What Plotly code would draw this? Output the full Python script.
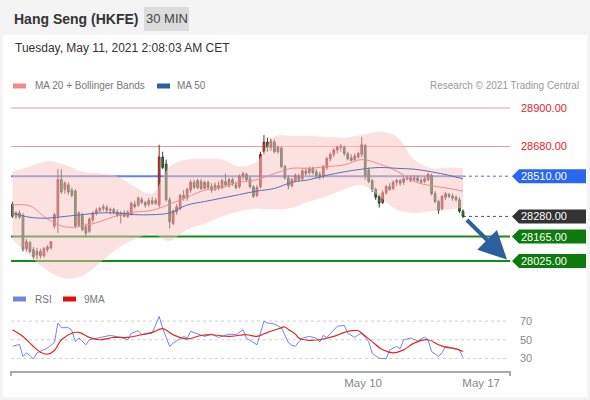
import plotly.graph_objects as go

# ---------------- data ----------------
opens = [28350,28280,28300,28285,28095,28130,28090,28060,28080,28055,28090,28100,28225,28280,28490,28435,28460,28430,28425,28230,
         28285,28220,28195,28260,28300,28315,28325,28330,28315,28320,28305,28285,28300,28280,28290,28350,28345,28375,28360,28350,
         28370,28355,28345,28620,28580,28375,28240,28305,28325,28400,28385,28430,28475,28445,28480,28440,28475,28450,28435,28455,
         28445,28480,28455,28490,28460,28450,28510,28520,28495,28450,28400,28450,28650,28705,28675,28705,28650,28670,28565,28500,
         28455,28485,28510,28495,28540,28530,28555,28535,28520,28510,28560,28610,28635,28660,28675,28675,28640,28615,28605,28620,
         28635,28685,28545,28485,28435,28395,28360,28415,28450,28440,28475,28485,28475,28495,28500,28490,28500,28485,28480,28490,
         28515,28410,28365,28325,28390,28405,28395,28390,28375,28310]
highs = [28365,28310,28315,28300,28150,28140,28105,28100,28095,28105,28115,28140,28300,28550,28550,28480,28475,28445,28435,28310,
         28300,28240,28275,28310,28330,28335,28350,28345,28330,28330,28320,28310,28315,28315,28365,28370,28395,28390,28370,28385,
         28390,28385,28690,28650,28605,28390,28320,28350,28410,28430,28445,28490,28490,28495,28495,28485,28485,28470,28475,28480,
         28495,28525,28500,28500,28480,28520,28535,28530,28510,28460,28460,28650,28745,28730,28725,28720,28685,28680,28575,28515,
         28500,28525,28525,28555,28560,28565,28565,28550,28535,28575,28620,28645,28670,28685,28695,28685,28650,28635,28640,28650,
         28735,28695,28560,28495,28445,28405,28430,28460,28470,28485,28495,28495,28505,28515,28515,28515,28515,28500,28505,28530,
         28525,28425,28375,28400,28420,28415,28410,28400,28390,28320]
lows = [28270,28265,28265,28080,28080,28070,28035,28035,28040,28045,28075,28090,28210,28185,28410,28410,28405,28390,28210,28220,
        28195,28165,28185,28245,28285,28305,28310,28305,28290,28290,28275,28240,28275,28270,28285,28325,28335,28350,28330,28335,
        28345,28345,28330,28550,28365,28210,28230,28290,28315,28370,28370,28415,28435,28435,28430,28435,28435,28415,28425,28430,
        28435,28450,28445,28455,28435,28440,28490,28480,28440,28385,28390,28440,28635,28650,28655,28640,28640,28555,28490,28435,
        28445,28475,28480,28485,28515,28520,28520,28500,28490,28495,28545,28595,28620,28640,28650,28625,28600,28595,28595,28610,
        28620,28490,28470,28420,28375,28330,28350,28405,28425,28430,28455,28455,28460,28485,28475,28480,28475,28470,28470,28480,
        28400,28355,28295,28315,28375,28385,28370,28365,28300,28270]
closes = [28280,28300,28275,28095,28135,28080,28050,28080,28055,28095,28105,28135,28290,28490,28420,28470,28420,28400,28225,28300,
          28205,28185,28265,28300,28315,28325,28335,28315,28320,28305,28285,28300,28280,28305,28355,28335,28385,28360,28345,28370,
          28355,28370,28620,28560,28375,28250,28310,28335,28400,28385,28435,28475,28445,28485,28440,28475,28445,28430,28460,28445,
          28485,28460,28490,28470,28445,28510,28525,28490,28450,28395,28445,28635,28705,28675,28710,28650,28675,28565,28500,28455,
          28490,28515,28490,28540,28525,28555,28530,28515,28505,28565,28610,28635,28660,28675,28680,28640,28610,28600,28625,28640,
          28690,28515,28480,28435,28390,28355,28415,28450,28435,28475,28485,28470,28495,28500,28485,28500,28485,28475,28495,28520,
          28410,28365,28315,28395,28410,28395,28385,28375,28310,28280]

band_idx = [0,5,10,15,20,25,30,35,40,45,50,55,60,65,70,75,80,85,90,95,100,105,110,115,120,125,129]
bb_upper = [28535,28565,28595,28575,28535,28525,28510,28450,28410,28565,28605,28610,28605,28565,28595,28735,28740,28740,
            28735,28730,28745,28765,28735,28605,28555,28560,28555]
bb_lower = [28150,28055,27970,27925,27940,28015,28095,28150,28180,28140,28205,28240,28280,28310,28325,28320,28330,28365,
            28395,28435,28460,28395,28320,28300,28310,28320,28330]
ma20 = [28345,28340,28265,28220,28225,28250,28285,28305,28315,28350,28390,28430,28445,28475,28490,28525,28555,28555,
        28565,28575,28605,28580,28540,28480,28455,28440,28425]
ma50 = [28300,28275,28270,28280,28290,28300,28300,28290,28290,28300,28345,28365,28385,28405,28425,28440,28475,28490,
        28515,28535,28550,28560,28555,28550,28535,28515,28495]

rsi_idx = [0,2,3,4,5,6,7,9,10,12,13,14,16,17,18,19,21,22,25,28,31,33,34,36,37,40,42,43,45,46,49,50,51,53,55,57,59,62,64,66,67,
           70,72,73,75,77,79,80,81,82,83,85,87,88,89,90,92,93,95,96,98,99,100,102,103,105,107,108,110,111,112,114,116,118,119,
           120,122,123,124,126,128,129]
rsi_val = [43,45,32,36,33,29.5,36,39,41,47,68,63,63,60,48,52,44.6,50,52.5,54.7,52.5,50,57,59.7,55.4,57,75,62.6,42.8,46.4,53.6,
           51.8,59,56,53.6,56,52.5,56,55.4,60.8,51.8,44.6,69.8,68,67,63,47,44,43,48,51.8,53.6,51.8,47.5,54.6,52.5,60.8,64.4,65.5,
           57,52.5,55.4,57,48,35.6,30.2,29.5,39.2,42.8,40.3,50,51.8,48.9,52.8,50,37.4,32,36,42.8,41,39.2,31]
ma9_idx = [0,3,6,8,10,12,14,17,19,22,25,29,33,37,40,43,46,50,54,57,62,67,70,73,76,78,79,81,82,85,89,92,96,99,100,103,106,109,
           112,115,119,122,124,127,129]
ma9_val = [60.8,53.6,42.8,36.6,34.5,38.5,50,57,57.9,52.5,50,52.5,52.5,55.4,57.9,61.9,55.4,50.9,54.6,55.4,53.6,55.4,53.6,57.9,
           61.5,63.7,61,56,51.8,49.3,50.8,53.6,59,59.7,57,48,39.2,36,39.2,46.4,50,44.6,42.1,40.3,37.4]

resistances = [28900, 28680]
pivot = 28510
supports = [28165, 28025]
last_price = closes[-1]
rsi_levels = [70, 50, 30]
x_tick_pos = [100.4, 134.2]
x_tick_text = ["May 10", "May 17"]

# ---------------- layout helpers ----------------
W, H = 590, 400
FONT = "Arial, 'Liberation Sans', sans-serif"
def px(x): return x / W
def py(y): return 1 - y / H

N = len(closes)
xs = list(range(N))
x_left, x_right = 11, 510
spacing = (463 - 12.5) / (N - 1)
x_range = [-(12.5 - x_left) / spacing, (x_right - 12.5) / spacing]
last_frac = (N - 1 - x_range[0]) / (x_range[1] - x_range[0])

price_top_px, price_bot_px = 92, 285
y_hi_px, y_lo_px = 108.0, 261.0   # pixel rows of 28900 and 28025
scale = (y_lo_px - y_hi_px) / (28900 - 28025)  # px per point
y_range = [28025 - (price_bot_px - y_lo_px) / scale, 28900 + (y_hi_px - price_top_px) / scale]

rsi_top_px, rsi_bot_px = 305, 371
rscale = (358 - 321) / 40.0
r_range = [50 - (rsi_bot_px - 340) / rscale, 70 + (321 - rsi_top_px) / rscale]

fig = go.Figure()

# Bollinger band fill
fig.add_trace(go.Scatter(x=band_idx, y=bb_upper, mode="lines", line=dict(width=0, shape="spline"),
                         hoverinfo="skip", showlegend=False))
fig.add_trace(go.Scatter(x=band_idx, y=bb_lower, mode="lines", line=dict(width=0, shape="spline"),
                         fill="tonexty", fillcolor="rgba(250,195,195,0.5)", hoverinfo="skip", showlegend=False))
fig.add_trace(go.Scatter(x=band_idx, y=ma20, mode="lines", line=dict(width=1, color="#f08a8a", shape="spline"),
                         showlegend=False))
fig.add_trace(go.Scatter(x=band_idx, y=ma50, mode="lines", line=dict(width=1, color="#5870b8", shape="spline"),
                         showlegend=False))

fig.add_trace(go.Candlestick(x=xs, open=opens, high=highs, low=lows, close=closes,
                             increasing=dict(fillcolor="#d83a3a", line=dict(color="#7a2a2a", width=1)),
                             decreasing=dict(fillcolor="#3e7a3a", line=dict(color="#2c4a2c", width=1)),
                             whiskerwidth=0, showlegend=False))

# RSI
fig.add_trace(go.Scatter(x=rsi_idx, y=rsi_val, mode="lines", line=dict(width=1, color="#7088e0"),
                         yaxis="y2", showlegend=False))
fig.add_trace(go.Scatter(x=ma9_idx, y=ma9_val, mode="lines", line=dict(width=1.2, color="#e02828", shape="spline"),
                         yaxis="y2", showlegend=False))

shapes = []
annotations = []

# backgrounds
shapes.append(dict(type="rect", xref="paper", yref="paper", x0=px(3), x1=px(587), y0=py(397), y1=py(35),
                   fillcolor="white", line=dict(width=0), layer="below"))
shapes.append(dict(type="rect", xref="paper", yref="paper", x0=px(144), x1=px(189), y0=py(31), y1=py(7),
                   fillcolor="#dcdcdc", line=dict(width=0), layer="below"))

# resistance lines
for r in resistances:
    shapes.append(dict(type="line", xref="x domain", yref="y", x0=0, x1=1, y0=r, y1=r,
                       line=dict(color="#f29a9a", width=1), layer="below"))
    annotations.append(dict(xref="paper", yref="y", x=px(519), y=r, text=f"{r:.2f}", showarrow=False,
                            xanchor="left", yanchor="middle", font=dict(family=FONT, size=11, color="#e8202a")))
# pivot line
shapes.append(dict(type="line", xref="x domain", yref="y", x0=0, x1=last_frac, y0=pivot, y1=pivot,
                   line=dict(color="rgba(70,110,220,0.85)", width=2), layer="below"))
shapes.append(dict(type="line", xref="x domain", yref="y", x0=last_frac, x1=1, y0=pivot, y1=pivot,
                   line=dict(color="#4a70d8", width=1, dash="dot"), layer="below"))
# last price dotted
shapes.append(dict(type="line", xref="x domain", yref="y", x0=last_frac, x1=1, y0=last_price, y1=last_price,
                   line=dict(color="#555555", width=1, dash="dot"), layer="below"))
# support lines
for s in supports:
    shapes.append(dict(type="line", xref="x domain", yref="y", x0=0, x1=1, y0=s, y1=s,
                       line=dict(color="#178a17", width=2), layer="below"))

# label boxes
def label_box(level, color):
    shapes.append(dict(type="path", xref="paper", yref="y", xsizemode="pixel", ysizemode="pixel",
                       xanchor=px(512), yanchor=level,
                       path="M 0 0 L 7 7 L 74 7 L 74 -7 L 7 -7 Z",
                       fillcolor=color, line=dict(width=0)))
    annotations.append(dict(xref="paper", yref="y", x=px(519), y=level, text=f"{level:.2f}", showarrow=False,
                            xanchor="left", yanchor="middle", font=dict(family=FONT, size=11, color="white")))
label_box(pivot, "#2a66ee")
label_box(last_price, "#333333")
for s in supports:
    label_box(s, "#0e7a0e")

# forecast arrow
annotations.append(dict(x=(507 - 12.5) / spacing, y=supports[1] + 8, xref="x", yref="y",
                        ax=N - 0.3, ay=last_price - 12, axref="x", ayref="y",
                        showarrow=True, arrowhead=2, arrowsize=1.4, arrowwidth=4, arrowcolor="#2d5e9e", text=""))

# RSI grid lines
for lv in rsi_levels:
    shapes.append(dict(type="line", xref="x domain", yref="y2", x0=0, x1=0.995, y0=lv, y1=lv,
                       line=dict(color="#cfcfcf", width=1, dash="dot"), layer="below"))

# axis end ticks
for xx in [0, 1]:
    shapes.append(dict(type="line", xref="x domain", yref="paper", x0=xx, x1=xx, y0=py(371), y1=py(376),
                       line=dict(color="#aaaaaa", width=2)))

# header texts
annotations += [
    dict(xref="paper", yref="paper", x=px(12), y=py(19), text="<b>Hang Seng (HKFE)</b>", showarrow=False,
         xanchor="left", yanchor="middle", font=dict(family=FONT, size=14, color="#333333")),
    dict(xref="paper", yref="paper", x=px(166.5), y=py(19), text="30 MIN", showarrow=False,
         xanchor="center", yanchor="middle", font=dict(family=FONT, size=13, color="#444444")),
    dict(xref="paper", yref="paper", x=px(13), y=py(48), text="Tuesday, May 11, 2021 2:08:03 AM CET", showarrow=False,
         xanchor="left", yanchor="middle", font=dict(family=FONT, size=12, color="#333333")),
    dict(xref="paper", yref="paper", x=px(33), y=py(86), text="MA 20 + Bollinger Bands", showarrow=False,
         xanchor="left", yanchor="middle", font=dict(family=FONT, size=10, color="#777777")),
    dict(xref="paper", yref="paper", x=px(175), y=py(86), text="MA 50", showarrow=False,
         xanchor="left", yanchor="middle", font=dict(family=FONT, size=10, color="#777777")),
    dict(xref="paper", yref="paper", x=px(581), y=py(86), text="Research © 2021 Trading Central", showarrow=False,
         xanchor="right", yanchor="middle", font=dict(family=FONT, size=10, color="#999999")),
    dict(xref="paper", yref="paper", x=px(33), y=py(299), text="RSI", showarrow=False,
         xanchor="left", yanchor="middle", font=dict(family=FONT, size=10, color="#777777")),
    dict(xref="paper", yref="paper", x=px(82), y=py(299), text="9MA", showarrow=False,
         xanchor="left", yanchor="middle", font=dict(family=FONT, size=10, color="#777777")),
]
# legend swatches
for x0, x1, yc, col in [(13, 26, 86, "#f08a8a"), (157, 170, 86, "#2f5e9e"), (13, 26, 299, "#6f86e0"), (63, 76, 299, "#e01010")]:
    shapes.append(dict(type="rect", xref="paper", yref="paper", x0=px(x0), x1=px(x1), y0=py(yc + 2.5), y1=py(yc - 2.5),
                       fillcolor=col, line=dict(width=0)))

fig.update_layout(
    width=W, height=H, margin=dict(l=0, r=0, t=0, b=0),
    paper_bgcolor="#f4f4f4", plot_bgcolor="rgba(0,0,0,0)",
    showlegend=False,
    xaxis=dict(domain=[px(x_left), px(x_right)], range=x_range, anchor="y2",
               showgrid=False, zeroline=False, showline=True, linecolor="#aaaaaa", linewidth=2,
               tickmode="array", tickvals=x_tick_pos, ticktext=x_tick_text, ticks="",
               ticklabelstandoff=0,
               tickfont=dict(family=FONT, size=11.5, color="#888888"),
               rangeslider=dict(visible=False), fixedrange=True),
    yaxis=dict(domain=[py(price_bot_px), py(price_top_px)], range=y_range, visible=False, fixedrange=True),
    yaxis2=dict(domain=[py(rsi_bot_px), py(rsi_top_px)], range=r_range, side="right", anchor="x",
                showgrid=False, zeroline=False, showline=False, tickmode="array", tickvals=rsi_levels,
                ticks="", ticklabelstandoff=9, tickfont=dict(family=FONT, size=11, color="#888888")),
    shapes=shapes, annotations=annotations,
)

fig.write_html("out.html", config={"displayModeBar": False},
               post_script="document.body.style.margin='0px';document.body.style.overflow='hidden';")
